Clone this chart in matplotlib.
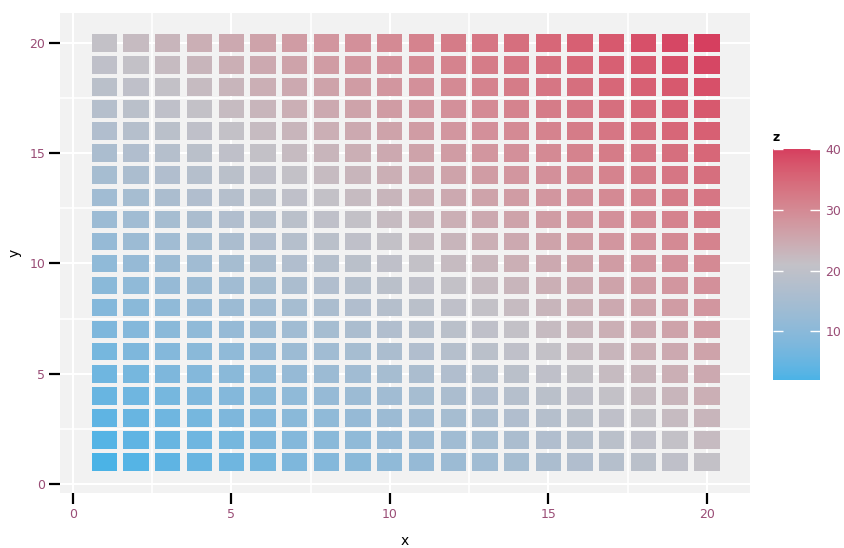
import numpy as np
import matplotlib
matplotlib.use("Agg")
import matplotlib.pyplot as plt
from matplotlib.colors import ListedColormap, Normalize, to_rgb

# ---- data ----
x_vals = list(range(1, 21))
y_vals = list(range(1, 21))
# z[row for y][col for x]
z_rows = [
    [2, 3, 4, 5, 6, 7, 8, 9, 10, 11, 12, 13, 14, 15, 16, 17, 18, 19, 20, 21],
    [3, 4, 5, 6, 7, 8, 9, 10, 11, 12, 13, 14, 15, 16, 17, 18, 19, 20, 21, 22],
    [4, 5, 6, 7, 8, 9, 10, 11, 12, 13, 14, 15, 16, 17, 18, 19, 20, 21, 22, 23],
    [5, 6, 7, 8, 9, 10, 11, 12, 13, 14, 15, 16, 17, 18, 19, 20, 21, 22, 23, 24],
    [6, 7, 8, 9, 10, 11, 12, 13, 14, 15, 16, 17, 18, 19, 20, 21, 22, 23, 24, 25],
    [7, 8, 9, 10, 11, 12, 13, 14, 15, 16, 17, 18, 19, 20, 21, 22, 23, 24, 25, 26],
    [8, 9, 10, 11, 12, 13, 14, 15, 16, 17, 18, 19, 20, 21, 22, 23, 24, 25, 26, 27],
    [9, 10, 11, 12, 13, 14, 15, 16, 17, 18, 19, 20, 21, 22, 23, 24, 25, 26, 27, 28],
    [10, 11, 12, 13, 14, 15, 16, 17, 18, 19, 20, 21, 22, 23, 24, 25, 26, 27, 28, 29],
    [11, 12, 13, 14, 15, 16, 17, 18, 19, 20, 21, 22, 23, 24, 25, 26, 27, 28, 29, 30],
    [12, 13, 14, 15, 16, 17, 18, 19, 20, 21, 22, 23, 24, 25, 26, 27, 28, 29, 30, 31],
    [13, 14, 15, 16, 17, 18, 19, 20, 21, 22, 23, 24, 25, 26, 27, 28, 29, 30, 31, 32],
    [14, 15, 16, 17, 18, 19, 20, 21, 22, 23, 24, 25, 26, 27, 28, 29, 30, 31, 32, 33],
    [15, 16, 17, 18, 19, 20, 21, 22, 23, 24, 25, 26, 27, 28, 29, 30, 31, 32, 33, 34],
    [16, 17, 18, 19, 20, 21, 22, 23, 24, 25, 26, 27, 28, 29, 30, 31, 32, 33, 34, 35],
    [17, 18, 19, 20, 21, 22, 23, 24, 25, 26, 27, 28, 29, 30, 31, 32, 33, 34, 35, 36],
    [18, 19, 20, 21, 22, 23, 24, 25, 26, 27, 28, 29, 30, 31, 32, 33, 34, 35, 36, 37],
    [19, 20, 21, 22, 23, 24, 25, 26, 27, 28, 29, 30, 31, 32, 33, 34, 35, 36, 37, 38],
    [20, 21, 22, 23, 24, 25, 26, 27, 28, 29, 30, 31, 32, 33, 34, 35, 36, 37, 38, 39],
    [21, 22, 23, 24, 25, 26, 27, 28, 29, 30, 31, 32, 33, 34, 35, 36, 37, 38, 39, 40],
]
x_ticks = [0, 5, 10, 15, 20]
y_ticks = [0, 5, 10, 15, 20]
z_ticks = [10, 20, 30, 40]

# ---- colour scale (Lab interpolation like ggplot gradient2) ----
low_col, mid_col, high_col = "#4BB3E6", "#C3C1C7", "#D63F5F"

def srgb_to_lab(rgb):
    rgb = np.asarray(rgb, float)
    lin = np.where(rgb <= 0.04045, rgb / 12.92, ((rgb + 0.055) / 1.055) ** 2.4)
    M = np.array([[0.4124, 0.3576, 0.1805], [0.2126, 0.7152, 0.0722], [0.0193, 0.1192, 0.9505]])
    xyz = M @ lin
    wp = np.array([0.95047, 1.0, 1.08883])
    t = xyz / wp
    f = np.where(t > (6 / 29) ** 3, np.cbrt(t), t / (3 * (6 / 29) ** 2) + 4 / 29)
    return np.array([116 * f[1] - 16, 500 * (f[0] - f[1]), 200 * (f[1] - f[2])])

def lab_to_srgb(lab):
    L, a, b = lab
    fy = (L + 16) / 116
    fx = fy + a / 500
    fz = fy - b / 200
    f = np.array([fx, fy, fz])
    t = np.where(f > 6 / 29, f ** 3, 3 * (6 / 29) ** 2 * (f - 4 / 29))
    xyz = t * np.array([0.95047, 1.0, 1.08883])
    Minv = np.array([[3.2406, -1.5372, -0.4986], [-0.9689, 1.8758, 0.0415], [0.0557, -0.2040, 1.0570]])
    lin = Minv @ xyz
    lin = np.clip(lin, 0, 1)
    rgb = np.where(lin <= 0.0031308, 12.92 * lin, 1.055 * lin ** (1 / 2.4) - 0.055)
    return np.clip(rgb, 0, 1)

zmin, zmax, zmid = 2, 40, 21
lab_lo, lab_mid, lab_hi = (srgb_to_lab(to_rgb(c)) for c in (low_col, mid_col, high_col))
vals = np.linspace(zmin, zmax, 256)
cols = []
for v in vals:
    if v <= zmid:
        t = (v - zmin) / (zmid - zmin)
        lab = lab_lo + (lab_mid - lab_lo) * t
    else:
        t = (v - zmid) / (zmax - zmid)
        lab = lab_mid + (lab_hi - lab_mid) * t
    cols.append(lab_to_srgb(lab))
cmap = ListedColormap(cols)
norm = Normalize(zmin, zmax)

# ---- figure ----
W, H = 845, 548
fig = plt.figure(figsize=(W / 100, H / 100), dpi=100)
ax = fig.add_axes([60 / W, (H - 493) / H, (750 - 60) / W, (493 - 13) / H])
ax.set_facecolor("#F2F2F2")

X, Y = np.meshgrid(x_vals, y_vals)
Z = np.array(z_rows)
ax.bar(X.ravel(), 0.8, width=0.8, bottom=Y.ravel() - 0.4,
       color=cmap(norm(Z.ravel())), linewidth=0, zorder=3)

ax.set_xlim(-0.4, 21.36)
ax.set_ylim(-0.41, 21.36)
ax.set_xticks(x_ticks)
ax.set_yticks(y_ticks)
ax.set_xticks([2.5, 7.5, 12.5, 17.5], minor=True)
ax.set_yticks([2.5, 7.5, 12.5, 17.5], minor=True)
ax.grid(True, which="major", color="white", linewidth=1.5, zorder=1)
ax.grid(True, which="minor", color="white", linewidth=1.2, zorder=1)
ax.set_axisbelow(True)
for s in ax.spines.values():
    s.set_visible(False)
lab_col = "#9A4D76"
ax.tick_params(which="major", direction="out", length=8, width=1.6, color="black",
               labelsize=9, labelcolor=lab_col, pad=2.5)
ax.tick_params(which="minor", length=0)
ax.set_xlabel("x", fontsize=10, labelpad=10)
ax.set_ylabel("y", fontsize=10, labelpad=6)

# ---- colorbar ----
cax = fig.add_axes([773 / W, (H - 380) / H, (820 - 773) / W, (380 - 149) / H])
cb = fig.colorbar(plt.cm.ScalarMappable(norm=norm, cmap=cmap), cax=cax)
cb.outline.set_visible(False)
cb.set_ticks(z_ticks)
cax.tick_params(direction="in", length=7, width=1, color="white", left=True, right=True,
                labelsize=9, labelcolor=lab_col, pad=4)
cax.set_title("z", fontsize=9, fontweight="bold", loc="left", pad=6)

fig.savefig("out.png", dpi=100)
